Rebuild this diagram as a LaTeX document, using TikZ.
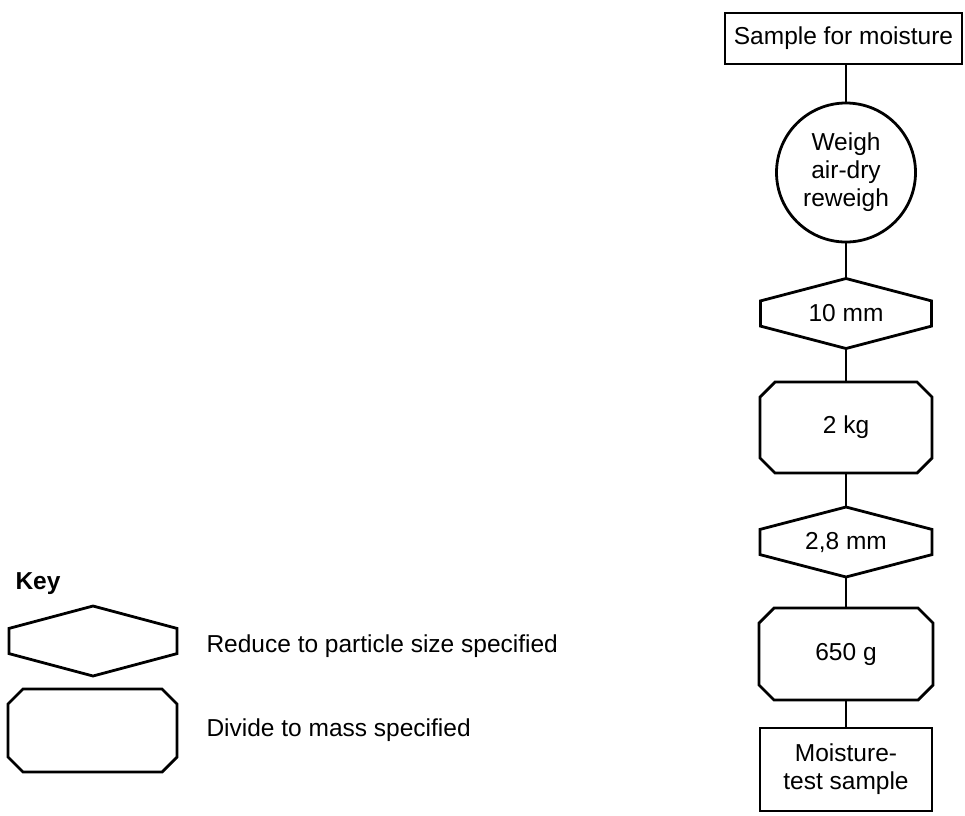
\documentclass[tikz,border=0pt]{standalone}
\usepackage{fontspec}
\setmainfont{Liberation Sans}
\usetikzlibrary{positioning, calc}

% outline of a "reduce" step, drawn round a named node
\newcommand{\hexframe}[1]{%
    \draw[flowline] (#1.north)
        -- ($(#1.north east)!0.32!(#1.south east)$)
        -- ($(#1.north east)!0.68!(#1.south east)$)
        -- (#1.south)
        -- ($(#1.north west)!0.68!(#1.south west)$)
        -- ($(#1.north west)!0.32!(#1.south west)$)
        -- cycle;}

% outline of a "divide" step, corners cut by 15
\newcommand{\octframe}[1]{%
    \draw[flowline] ($(#1.north west)+(15, 0)$)
        -- ($(#1.north east)+(-15, 0)$)
        -- ($(#1.north east)+(0, 15)$)
        -- ($(#1.south east)+(0, -15)$)
        -- ($(#1.south east)+(-15, 0)$)
        -- ($(#1.south west)+(15, 0)$)
        -- ($(#1.south west)+(0, -15)$)
        -- ($(#1.north west)+(0, 15)$)
        -- cycle;}

\begin{document}
\begin{tikzpicture}[x=1pt, y=-1pt, font=\fontsize{24.5}{28}\selectfont]
    \tikzstyle{flowline}=[draw, line width=2.8pt, line join=miter]
    \tikzstyle{endbox}=[flowline, rectangle, inner sep=0pt, align=center]
    \tikzstyle{weighbox}=[flowline, circle, minimum size=139pt, inner sep=0pt, align=center]
    \tikzstyle{reducebox}=[rectangle, minimum width=171pt, minimum height=70pt, inner sep=0pt, outer sep=0pt]
    \tikzstyle{dividebox}=[rectangle, minimum width=172pt, minimum height=91pt, inner sep=0pt, outer sep=0pt]

    \useasboundingbox (0, 0) rectangle (965, 815);

    % flow chart
    \node[endbox, minimum width=237pt, minimum height=51pt] (sample) at (843.5, 38.5) {Sample for moisture};
    \node[weighbox] (weigh) at (846, 172.5) {Weigh\\air-dry\\reweigh};
    \node[reducebox] (crushA) at (846, 313.5) {10 mm};
    \node[dividebox] (divA) at (846, 427.5) {2 kg};
    \node[reducebox, minimum width=172pt] (crushB) at (846, 542) {2,8 mm};
    \node[dividebox, minimum width=174pt, minimum height=92pt] (divB) at (846, 654) {650 g};
    \node[endbox, minimum width=172pt, minimum height=83pt] (testsample) at (846, 769.5) {Moisture-\\test sample};

    \hexframe{crushA}
    \octframe{divA}
    \hexframe{crushB}
    \octframe{divB}

    \draw[flowline] (weigh.north |- sample.south) -- (weigh.north);
    \draw[flowline] (weigh.south) -- (crushA.north);
    \draw[flowline] (crushA.south) -- (divA.north);
    \draw[flowline] (divA.south) -- (crushB.north);
    \draw[flowline] (crushB.south) -- (divB.north);
    \draw[flowline] (divB.south) -- (testsample.north);

    % key
    \node[anchor=west, font=\fontsize{24.5}{28}\selectfont\bfseries] (keytitle) at (12, 584) {Key};
    \node[reducebox, minimum width=168pt] (keyreduce) at (93, 641) {};
    \hexframe{keyreduce}
    \node[dividebox, minimum width=169pt, minimum height=83pt] (keydivide) at (92.5, 730.5) {};
    \octframe{keydivide}

    \node[anchor=west] (reducetext) at (203, 646) {Reduce to particle size specified};
    \node[anchor=west] (dividetext) at (203, 730.5) {Divide to mass specified};
\end{tikzpicture}
\end{document}
